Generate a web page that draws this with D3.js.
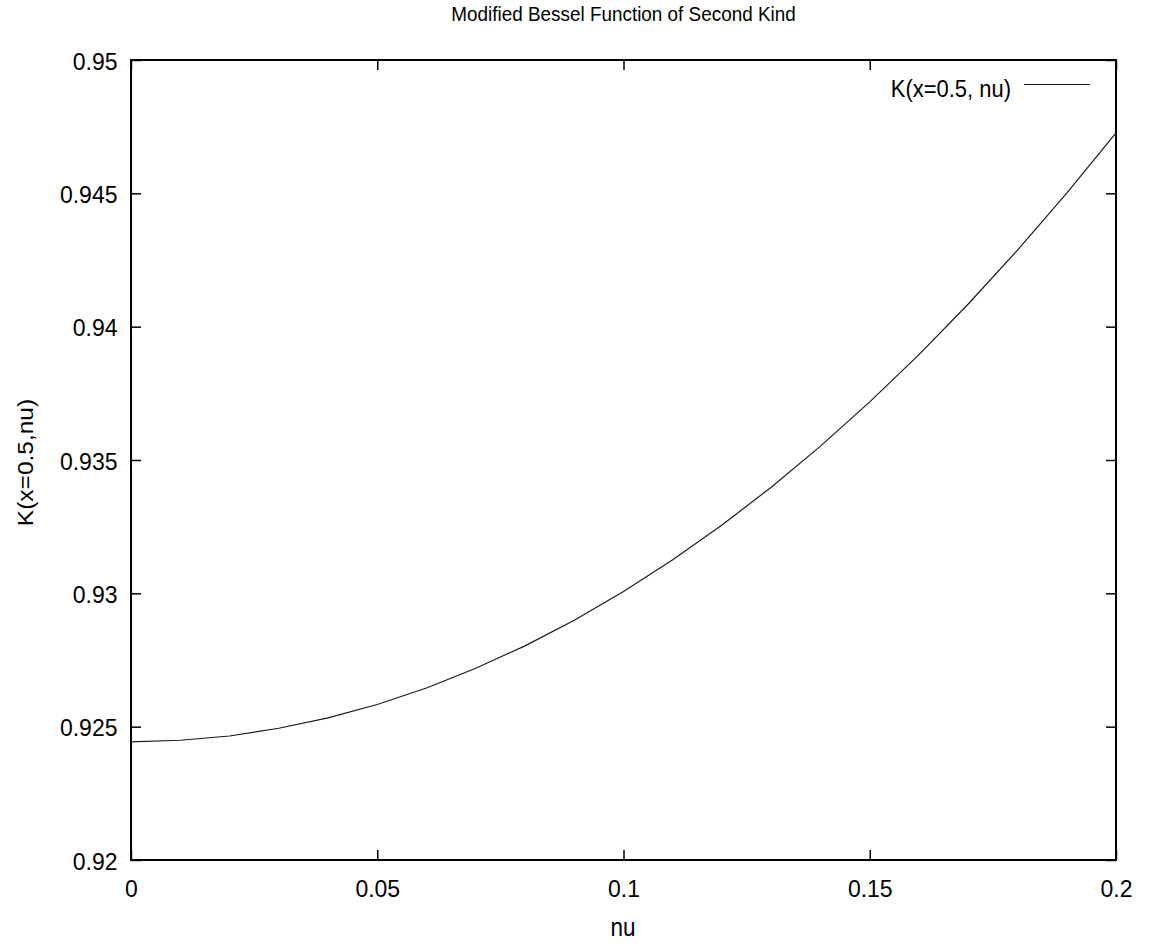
<!DOCTYPE html>
<html>
<head>
<meta charset="utf-8">
<script src="https://cdn.jsdelivr.net/npm/d3@7"></script>
<style>
  html, body { margin: 0; padding: 0; background: #fff; }
  text { font-family: "Liberation Sans", Arial, sans-serif; fill: #000; }
</style>
</head>
<body>
<svg id="chart" width="1153" height="944"></svg>
<script>
// ---- data ----
const nuValues = [0, 0.01, 0.02, 0.03, 0.04, 0.05, 0.06, 0.07, 0.08, 0.09, 0.10,
                  0.11, 0.12, 0.13, 0.14, 0.15, 0.16, 0.17, 0.18, 0.19, 0.20];
const kValues  = [0.92443, 0.92449, 0.92465, 0.92494, 0.92533, 0.92583, 0.92645,
                  0.92719, 0.92803, 0.92899, 0.93007, 0.93126, 0.93256, 0.93398,
                  0.93552, 0.93718, 0.93895, 0.94085, 0.94287, 0.94501, 0.94727];
const xTicks = [0, 0.05, 0.1, 0.15, 0.2];
const xTickLabels = ["0", "0.05", "0.1", "0.15", "0.2"];
const yTicks = [0.92, 0.925, 0.93, 0.935, 0.94, 0.945, 0.95];
const yTickLabels = ["0.92", "0.925", "0.93", "0.935", "0.94", "0.945", "0.95"];
const titleText = "Modified Bessel Function of Second Kind";
const xLabel = "nu";
const yLabel = "K(x=0.5,nu)";
const legendLabel = "K(x=0.5, nu)";

// ---- layout ----
const L = 131, R = 1116, T = 60, B = 860;
const svg = d3.select("#chart");

const x = d3.scaleLinear().domain([0, 0.2]).range([L, R]);
const y = d3.scaleLinear().domain([0.92, 0.95]).range([B, T]);

const tickLen = 10;
const fmtX = d => xTickLabels[xTicks.indexOf(d)];
const fmtY = d => yTickLabels[yTicks.indexOf(d)];

// bottom axis (ticks pointing inward)
const gB = svg.append("g").attr("transform", `translate(0,${B})`)
  .call(d3.axisBottom(x).tickValues(xTicks).tickFormat(fmtX).tickSize(-tickLen).tickPadding(22));
// top axis (mirror, no labels)
const gT = svg.append("g").attr("transform", `translate(0,${T})`)
  .call(d3.axisTop(x).tickValues(xTicks).tickFormat("").tickSize(-tickLen));
// left axis
const gL = svg.append("g").attr("transform", `translate(${L},0)`)
  .call(d3.axisLeft(y).tickValues(yTicks).tickFormat(fmtY).tickSize(-tickLen).tickPadding(14));
// right axis (mirror)
const gR = svg.append("g").attr("transform", `translate(${R},0)`)
  .call(d3.axisRight(y).tickValues(yTicks).tickFormat("").tickSize(-tickLen));

[gB, gT, gL, gR].forEach(g => {
  g.select(".domain").remove();
  g.selectAll(".tick line").attr("stroke", "#000").attr("stroke-width", 1.5);
  g.selectAll(".tick text")
    .style("font-family", '"Liberation Sans", Arial, sans-serif')
    .style("font-size", "23px").attr("fill", "#000");
});
gB.selectAll(".tick text").attr("dy", null).attr("y", 36.5);
gL.selectAll(".tick text").attr("dy", null).attr("y", 9).attr("x", -13.5);

// frame
svg.append("rect")
  .attr("x", L).attr("y", T).attr("width", R - L).attr("height", B - T)
  .attr("fill", "none").attr("stroke", "#000").attr("stroke-width", 2);

// curve
const pts = nuValues.map((v, i) => [v, kValues[i]]);
svg.append("path")
  .datum(pts)
  .attr("fill", "none")
  .attr("stroke", "#1a1a1a")
  .attr("stroke-width", 1.2)
  .attr("d", d3.line().x(d => x(d[0])).y(d => y(d[1])));

// title
svg.append("text")
  .attr("transform", `translate(${(L + R) / 2},20.5) scale(0.9,1)`)
  .attr("text-anchor", "middle")
  .style("font-size", "21px")
  .text(titleText);

// x label
svg.append("text")
  .attr("transform", `translate(623,936) scale(0.9,1)`)
  .attr("text-anchor", "middle")
  .style("font-size", "25px")
  .text(xLabel);

// y label
svg.append("text")
  .attr("transform", `translate(33,462.5) rotate(-90) scale(1,0.9)`)
  .attr("text-anchor", "middle")
  .style("font-size", "24.5px")
  .text(yLabel);

// legend
svg.append("text")
  .attr("transform", `translate(1011,97) scale(0.9,1)`)
  .attr("text-anchor", "end")
  .style("font-size", "24.4px")
  .text(legendLabel);
svg.append("line")
  .attr("x1", 1024).attr("x2", 1090)
  .attr("y1", 84.5).attr("y2", 84.5)
  .attr("stroke", "#1a1a1a").attr("stroke-width", 1.2);
</script>
</body>
</html>
